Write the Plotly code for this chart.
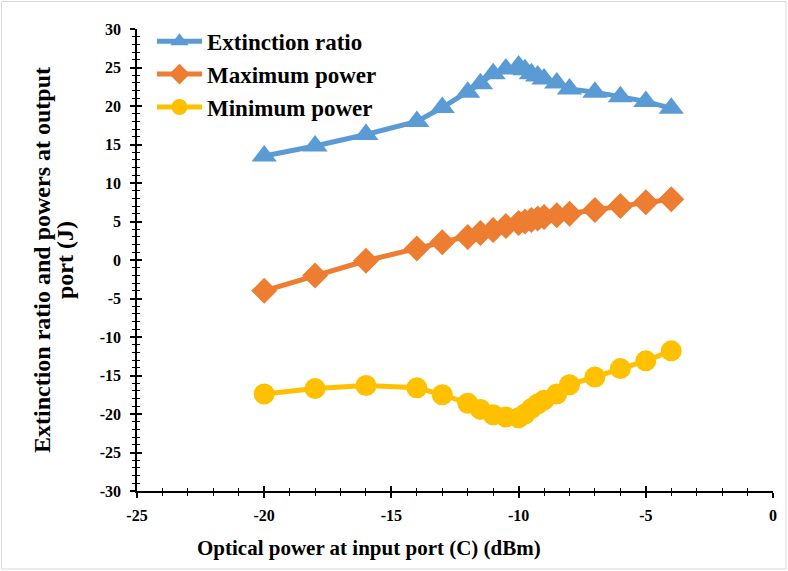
import plotly.graph_objects as go

x_vals = [-20, -18, -16, -14, -13, -12, -11.5, -11, -10.5, -10, -9.75, -9.5, -9.25, -9, -8.5, -8, -7, -6, -5, -4]
extinction = [13.5, 14.8, 16.3, 18.0, 19.8, 21.8, 22.9, 24.2, 24.8, 25.2, 24.7, 24.2, 23.9, 23.5, 23.0, 22.2, 21.8, 21.2, 20.6, 19.7]
max_power = [-4.0, -2.0, -0.1, 1.5, 2.3, 3.0, 3.5, 3.9, 4.4, 4.8, 5.0, 5.2, 5.4, 5.6, 5.8, 6.0, 6.5, 7.0, 7.5, 7.9]
min_power = [-17.4, -16.7, -16.3, -16.6, -17.5, -18.6, -19.4, -20.1, -20.4, -20.5, -20.0, -19.3, -18.7, -18.2, -17.4, -16.2, -15.2, -14.1, -13.1, -11.8]

x_ticks = [-25, -20, -15, -10, -5, 0]
x_tick_labels = ["-25", "-20", "-15", "-10", "-5", "0"]
y_ticks = [30, 25, 20, 15, 10, 5, 0, -5, -10, -15, -20, -25, -30]
y_tick_labels = ["30", "25", "20", "15", "10", "5", "0", "-5", "-10", "-15", "-20", "-25", "-30"]

names = ["Extinction ratio", "Maximum power", "Minimum power"]
colors = ["#5B9BD5", "#ED7D31", "#FFC000"]
symbols = ["triangle-up", "diamond", "circle"]
sizes = [22, 20, 21]

FONT = "Liberation Serif"

fig = go.Figure()
for name, ys, c, s, sz in zip(names, [extinction, max_power, min_power], colors, symbols, sizes):
    fig.add_trace(go.Scatter(
        x=x_vals, y=ys, name=name, mode="lines+markers",
        line=dict(color=c, width=5),
        marker=dict(symbol=s, size=sz, color=c, line=dict(width=0)),
    ))

fig.add_trace(go.Scatter(x=[-25], y=[-30], xaxis="x2", yaxis="y2", mode="markers",
                         marker=dict(opacity=0), showlegend=False, hoverinfo="skip"))

tickfont = dict(family=FONT, size=16, color="black", weight="bold")
fig.update_layout(
    width=788, height=571,
    margin=dict(l=137, r=15, t=29, b=80),
    paper_bgcolor="white", plot_bgcolor="white",
    font=dict(family=FONT, color="black"),
    xaxis=dict(range=[-25, 0], tickvals=x_ticks, ticktext=x_tick_labels, showgrid=False, zeroline=False,
               showline=True, linecolor="black", linewidth=1.5,
               ticks="outside", ticklen=5, tickwidth=1.5, tickcolor="black",
               ticklabelstandoff=4,
               minor=dict(ticks="outside", dtick=1, tick0=-25, ticklen=3, tickwidth=1, tickcolor="black"),
               tickfont=tickfont),
    yaxis=dict(range=[-30, 30], tickvals=y_ticks, ticktext=y_tick_labels, showgrid=False, zeroline=False,
               showline=True, linecolor="black", linewidth=1.5,
               ticks="outside", ticklen=5, tickwidth=1.5, tickcolor="black",
               ticklabelstandoff=6,
               minor=dict(ticks="outside", dtick=1, tick0=-30, ticklen=3, tickwidth=1, tickcolor="black"),
               tickfont=tickfont),
    xaxis2=dict(range=[-25, 0], dtick=5, tick0=-25, overlaying="x", side="bottom",
                showgrid=False, zeroline=False, showticklabels=False,
                ticks="inside", ticklen=5, tickwidth=1.5, tickcolor="black",
                minor=dict(ticks="inside", dtick=1, ticklen=3, tickwidth=1, tickcolor="black"),
                anchor="y2"),
    yaxis2=dict(range=[-30, 30], dtick=5, tick0=-30, overlaying="y", side="left",
                showgrid=False, zeroline=False, showticklabels=False,
                ticks="inside", ticklen=5, tickwidth=1.5, tickcolor="black",
                minor=dict(ticks="inside", dtick=1, ticklen=3, tickwidth=1, tickcolor="black"),
                anchor="x2"),
    legend=dict(x=(152 - 137) / 636, y=1.02, xanchor="left", yanchor="top",
                font=dict(family=FONT, size=23, color="black", weight="bold"),
                bgcolor="rgba(0,0,0,0)", tracegroupgap=0, itemwidth=45),
    showlegend=True,
)

fig.add_annotation(text="Optical power at input port (C) (dBm)", xref="paper", yref="paper",
                   x=(369 - 137) / 636, y=(491 - 548) / 462, xanchor="center", yanchor="middle",
                   showarrow=False, font=dict(family=FONT, size=21, color="black", weight="bold"))
fig.add_annotation(text="Extinction ratio and powers at output", xref="paper", yref="paper",
                   x=(42 - 137) / 636, y=0.5, xanchor="center", yanchor="middle", textangle=-90,
                   showarrow=False, font=dict(family=FONT, size=24, color="black", weight="bold"))
fig.add_annotation(text="port (J)", xref="paper", yref="paper",
                   x=(65 - 137) / 636, y=0.5, xanchor="center", yanchor="middle", textangle=-90,
                   showarrow=False, font=dict(family=FONT, size=24, color="black", weight="bold"))

fig.add_shape(type="rect", xref="paper", yref="paper",
              x0=(1.5 - 137) / 636, x1=(786 - 137) / 636, y0=(491 - 569) / 462, y1=(491 - 1.5) / 462,
              line=dict(color="#D9D9D9", width=1))

fig.write_html("out.html", post_script="document.body.style.margin='0';",
               config={"displayModeBar": False})
